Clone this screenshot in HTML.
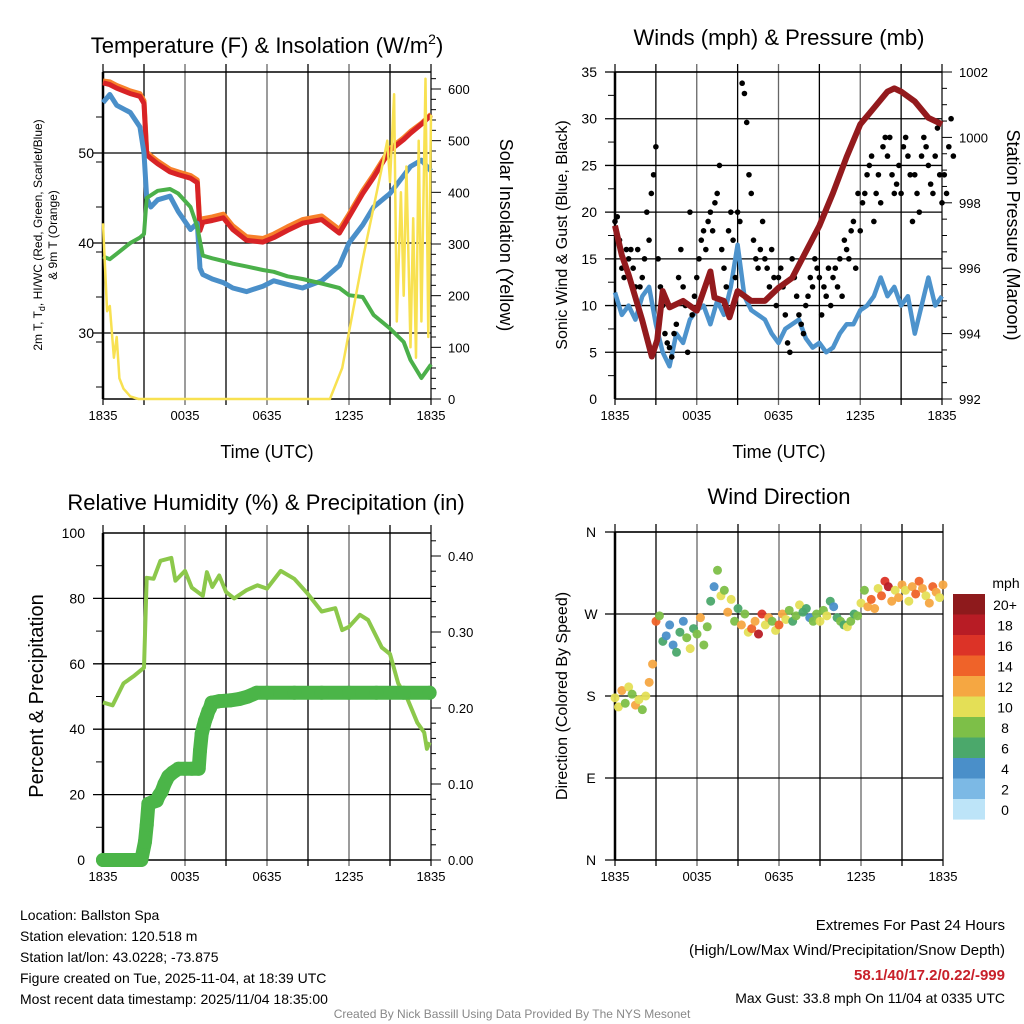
<!DOCTYPE html>
<html><head><meta charset="utf-8"><style>
html,body{margin:0;padding:0;background:#fff}
svg{display:block;font-family:"Liberation Sans",Arial,sans-serif}
</style></head><body>
<svg id="chart" xmlns="http://www.w3.org/2000/svg" width="1024" height="1024" viewBox="0 0 1024 1024">
<rect width="1024" height="1024" fill="#fff"/>
<g id="layer"></g>
</svg>
<script>
// ---------- DATA ----------
const xTickLabels = ["1835","0035","0635","1235","1835"];
const tempTicks = [30,40,50];
const solarTicks = [0,100,200,300,400,500,600];
const windTicks = [0,5,10,15,20,25,30,35];
const presTicks = [992,994,996,998,1000,1002];
const rhTicks = [0,20,40,60,80,100];
const precipTicks = ["0.00","0.10","0.20","0.30","0.40"];
const dirTicks = ["N","E","S","W","N"];
const speedLabels = ["20+","18","16","14","12","10","8","6","4","2","0"];
const speedColors = ["#8e1a1c","#b81c25","#dc3327","#ef6329","#f5a742","#e4df56","#7dbf48","#4ba86b","#4a8fc9","#7cb9e5","#bde4f8"];

// Temperature panel (hours since 1835 UTC)
const tempHours = [0,0.5,1,2,2.7,3.0,3.2,3.5,4,4.9,5.5,6.4,6.9,7.1,7.3,8,8.8,9.5,10.5,11.7,12.5,13.5,14.6,16,17.3,18,19,19.8,21,22,22.5,23.3,24];
const temp2m = [57.8,57.6,57.2,56.6,56.3,55.5,49.8,49.4,48.8,47.9,47.6,47.2,46.7,41.4,42.3,42.5,42.8,41.5,40.3,40.1,40.6,41.4,42.2,42.6,41.1,42.9,45.5,47.3,50.3,51.5,52.2,53.2,54.2];
const temp9m = [58.0,57.9,57.5,56.9,56.6,55.8,50.1,49.7,49.1,48.2,47.9,47.5,47.0,41.8,42.7,42.9,43.2,41.9,40.7,40.5,41.0,41.8,42.6,43.0,41.5,43.2,45.8,47.6,50.5,51.7,52.4,53.3,54.3];
const windChill = [55.6,56.5,55.3,54.5,52.9,50,45.0,44.0,44.8,45.2,43.5,41.5,42.2,37.2,36.5,36.0,35.6,35.0,34.6,35.2,35.8,35.4,35.0,35.8,37.5,40.0,42.0,44.0,45.5,47.5,48.5,49.2,48.0];
const dewPoint = [38.5,38.2,38.8,40.0,40.6,41.0,45.0,45.3,45.8,46.0,45.5,44.0,41.8,40.2,38.6,38.3,38.0,37.7,37.4,37.0,36.8,36.3,36.0,35.5,35.0,34.2,34.0,32.0,30.5,29.0,27.0,25.0,26.5];
const solarHours = [0,0.3,0.5,0.8,1,1.2,1.5,2,2.6,16.6,17.5,19,20.5,20.8,21.0,21.3,21.5,21.8,22,22.2,22.5,22.7,22.9,23.1,23.3,23.6,23.8,24];
const solar = [340,170,180,80,120,40,20,5,0,0,60,270,460,500,420,590,150,400,200,450,100,350,80,500,150,620,120,550];

// Winds & pressure panel
const windHours = [0,0.5,1,1.5,2,2.5,3,3.5,4,4.5,5,5.5,6,6.5,7,7.5,8,8.5,9,9.5,10,10.5,11,11.5,12,12.5,13,13.5,14,14.5,15,15.5,16,16.5,17,17.5,18,18.5,19,19.5,20,20.5,21,21.5,22,22.5,23,23.5,24];
const sonicWind = [11.4,9,10,8.5,11,12,8,5,3.5,7,6,8.5,9.5,10,8,10.5,9,12,16.5,11,9.5,9,8.5,7,6,7.5,8,8.5,6.5,5.5,6,5,5.5,7,8,8,9.5,10,11,13,11,12,10,11,7,10,13,10,11];
const presHours = [0,0.5,1,2,2.7,3.1,3.5,4,5,6,7,7.3,8,8.4,9,10,11,12,13,14,15,16,17,18,19,20,20.5,21,22,23,24];
const pressure = [997.3,996.4,995.8,994.4,993.3,993.8,995.3,994.8,995.0,994.7,995.9,995.1,995.0,994.5,995.3,995.0,995.0,995.4,995.7,996.5,997.3,998.3,999.4,1000.4,1000.9,1001.4,1001.5,1001.4,1001.1,1000.6,1000.4];
// gusts every 10 minutes
const gusts = [19,19.5,17,14,13,16, 15,16,14,12,16,12, 13,15,20,17,22,24, 27,15,12,10,7,6, 5.5,4.5,7,8,13,16, 12,10,5,20,9,11, 13,15,17,18,16,19, 20,18,21,22,25,16, 14,12,18,20,17,13, 20,19,33.8,32.7,29.6,24, 22,17,15,14,16,19, 15,14,12,16,13,10, 13,14,12,9,6,5, 15,13,11,9,8,7, 10,11,13,12,15,14, 13,9,12,11,14,10, 13,14,12,15,11,17, 16,15,18,19,14,22, 18,21,22,24,25,26, 19,22,24,21,27,28, 26,28,24,22,23,25, 22,27,28,26,24,19, 24,22,20,26,28,27, 25,23,22,26,29,24, 21,24,22,27,30,26];

// RH & precip panel
const rhHours = [0,0.7,1.5,2.3,3.0,3.2,3.7,4.2,5.0,5.3,6.0,6.5,7.3,7.6,8.0,8.5,9.0,9.6,10.5,11.3,12,13,14,15,16,17,17.5,18,18.8,19.4,20.4,21,21.6,22.3,23,23.5,23.7,23.9];
const rh = [48.2,47.3,54,56.4,58.8,86.3,86,91.5,92.4,85.4,88.4,83.3,80.8,88,83.5,87,82,80,82.5,84,83,88.4,86,81.3,76,77,70.3,71.3,75,73.4,65,63,54,49,42,39,34,36];
const precipHours = [0,0.3,0.6,0.9,1.2,1.5,1.8,2.1,2.4,2.8,3.07,3.2,3.32,3.6,3.93,4.1,4.29,4.5,4.78,5.1,5.51,6.0,6.5,7.0,7.1,7.22,7.35,7.46,7.6,7.71,7.83,7.95,8.5,9.29,10,10.6,11.24,12,14,16,18,20,22,23.9];
const precip = [0,0,0,0,0,0,0,0,0,0,0.024,0.046,0.074,0.076,0.078,0.085,0.09,0.1,0.11,0.115,0.12,0.12,0.12,0.12,0.144,0.166,0.175,0.183,0.19,0.196,0.2,0.207,0.209,0.21,0.212,0.215,0.22,0.22,0.22,0.22,0.22,0.22,0.22,0.22];

// Wind direction (every 15 min): degrees and speed
const dirDeg = [178,168,186,172,190,182,170,176,165,180,195,215,262,268,240,246,258,236,228,250,262,244,232,254,248,266,236,256,284,300,318,290,296,272,286,262,276,258,270,250,254,262,248,270,258,266,262,252,258,270,264,274,262,268,280,272,276,266,262,270,262,274,268,284,278,266,262,258,256,262,270,268,282,296,278,286,276,298,290,306,300,284,296,288,302,296,284,300,292,306,298,290,282,300,294,288,302];
const dirSpeed = [10,9,11,8,10,7,12,9,8,10,11,12,13,8,5,4,3,3,6,5,4,7,9,6,7,11,8,7,5,4,8,10,7,12,9,8,6,11,7,9,13,12,18,16,9,12,8,9,13,12,9,8,6,7,9,5,6,4,8,7,9,8,9,6,4,5,7,6,9,8,6,7,9,8,12,13,11,10,14,16,17,12,10,11,12,9,10,11,14,13,11,10,12,14,11,9,12];

// ---------- DRAWING ----------
const NS = "http://www.w3.org/2000/svg";
const layer = document.getElementById("layer");
function mk(tag, attrs, parent, name, inter) {
  const el = document.createElementNS(NS, tag);
  for (const k in attrs) el.setAttribute(k, attrs[k]);
  
  
  (parent || layer).appendChild(el);
  return el;
}
function txt(x, y, s, size, anchor, parent, name, extra) {
  const t = mk("text", Object.assign({x:x, y:y, "font-size":size, "text-anchor":anchor||"middle", fill:"#000"}, extra||{}), parent, name, false);
  t.textContent = s;
  return t;
}
function lin(d0, d1, r0, r1) { return v => r0 + (v - d0) * (r1 - r0) / (d1 - d0); }
function pathD(xs, ys, fx, fy) { return xs.map((h, i) => (i ? "L" : "M") + fx(h).toFixed(1) + "," + fy(ys[i]).toFixed(1)).join(""); }

function frame(L, T, R, B, hLines, name) {
  const g = mk("g", {}, layer, name, false);
  for (let i = 0; i <= 8; i++) {
    const x = L + i * (R - L) / 8;
    mk("line", {x1:x, y1:T-8, x2:x, y2:B+6, stroke: (i%2? "#000":"#666"), "stroke-width":(i==0||i==8)?2:1.3}, g, "v-gridline", false);
  }
  hLines.forEach(y => mk("line", {x1:L-10, y1:y, x2:R, y2:y, stroke:"#000", "stroke-width":1.3}, g, "h-gridline", false));
  mk("line", {x1:L, y1:T, x2:R, y2:T, stroke:"#000", "stroke-width":1.5}, g, "top-border", false);
  mk("line", {x1:L, y1:B, x2:R, y2:B, stroke:"#000", "stroke-width":1.5}, g, "bottom-border", false);
  mk("line", {x1:L, y1:T, x2:L, y2:B, stroke:"#000", "stroke-width":2.5}, g, "left-border", false);
  xTickLabels.forEach((s, i) => txt(L + i * (R - L) / 4, B + 21, s, 13, "middle", g, "x-tick-label"));
  return g;
}

// ===== Panel 1: Temperature =====
{
  const L=103,R=431,T=72,B=399;
  const fx = lin(0,24,L,R), fy = lin(30,40,333,243), fs = lin(0,600,399,89);
  const g = frame(L,T,R,B,[fy(30),fy(40),fy(50)],"temperature-panel");
  tempTicks.forEach(v => txt(L-9, fy(v)+5, String(v), 14, "end", g, "temp-tick-label"));
  for (let v=24; v<=58; v+=5) { if (v%10) mk("line",{x1:L-7,y1:fy(v),x2:L,y2:fy(v),stroke:"#000"},g,"temp-minor-tick",false); }
  solarTicks.forEach(v => { mk("line",{x1:R,y1:fs(v),x2:R+10,y2:fs(v),stroke:"#000"},g,"solar-tick",false); txt(R+17, fs(v)+5, String(v), 13, "start", g, "solar-tick-label"); });
  for (let v=20; v<=620; v+=20) if (v%100) mk("line",{x1:R,y1:fs(v),x2:R+5,y2:fs(v),stroke:"#000"},g,"solar-minor-tick",false);
  mk("path",{d:pathD(tempHours,temp9m,fx,fy),fill:"none",stroke:"#f7802a","stroke-width":5,"stroke-linejoin":"round"},g,"series-9m-temp",false);
  mk("path",{d:pathD(tempHours,temp2m,fx,fy),fill:"none",stroke:"#d82326","stroke-width":5,"stroke-linejoin":"round"},g,"series-2m-temp",false);
  mk("path",{d:pathD(tempHours,windChill,fx,fy),fill:"none",stroke:"#4a8fc9","stroke-width":5,"stroke-linejoin":"round"},g,"series-wind-chill",false);
  mk("path",{d:pathD(tempHours,dewPoint,fx,fy),fill:"none",stroke:"#4bb04a","stroke-width":4,"stroke-linejoin":"round"},g,"series-dewpoint",false);
  mk("path",{d:pathD(solarHours,solar,fx,fs),fill:"none",stroke:"#f8e151","stroke-width":2.5,"stroke-linejoin":"round"},g,"series-solar",false);
  const t = txt(267, 53, "", 22, "middle", g, "temp-chart-title");
  t.innerHTML = 'Temperature (F) &amp; Insolation (W/m<tspan font-size="14" dy="-9">2</tspan><tspan dy="9">)</tspan>';
  txt(267, 458, "Time (UTC)", 18, "middle", g, "x-axis-title");
  const yl = txt(0,0,"",12,"middle",g,"temp-y-axis-title",{transform:"translate(42,235) rotate(-90)"});
  yl.innerHTML = '2m T, T<tspan font-size="9" dy="3">d</tspan><tspan dy="-3">, HI/WC (Red, Green, Scarlet/Blue)</tspan>';
  txt(0,0,"& 9m T (Orange)",12,"middle",g,"temp-y-axis-title-line2",{transform:"translate(57,235) rotate(-90)"});
  txt(0,0,"Solar Insolation (Yellow)",18,"middle",g,"solar-axis-title",{transform:"translate(500,235) rotate(90)"});
}

// ===== Panel 2: Winds =====
{
  const L=615,R=942,T=72,B=399;
  const fx = lin(0,24,L,R), fy = lin(0,35,B,T), fp = lin(992,1002,B,T);
  const g = frame(L,T,R,B,windTicks.slice(1).map(fy),"winds-panel");
  windTicks.forEach(v => txt(L-18, fy(v)+5, String(v), 14, "end", g, "wind-tick-label"));
  for (let v=2.5; v<35; v+=5) mk("line",{x1:L-7,y1:fy(v),x2:L,y2:fy(v),stroke:"#000"},g,"wind-minor-tick",false);
  presTicks.forEach(v => { mk("line",{x1:R,y1:fp(v),x2:R+10,y2:fp(v),stroke:"#000"},g,"pres-tick",false); txt(R+17, fp(v)+5, String(v), 13, "start", g, "pres-tick-label"); });
  for (let v=992.5; v<1002; v+=0.5) if (Math.abs(v-Math.round(v/2)*2)>0.1) mk("line",{x1:R,y1:fp(v),x2:R+5,y2:fp(v),stroke:"#000"},g,"pres-minor-tick",false);
  mk("path",{d:pathD(windHours,sonicWind,fx,fy),fill:"none",stroke:"#4d93cc","stroke-width":4.5,"stroke-linejoin":"round"},g,"series-sonic-wind",false);
  gusts.forEach((v,i) => mk("circle",{cx:fx(i/6),cy:fy(v),r:2.8,fill:"#000"},g,"gust-point",false));
  mk("path",{d:pathD(presHours,pressure,fx,fp),fill:"none",stroke:"#931a1d","stroke-width":6,"stroke-linejoin":"round"},g,"series-pressure",false);
  txt(779, 45, "Winds (mph) & Pressure (mb)", 22, "middle", g, "winds-chart-title");
  txt(779, 458, "Time (UTC)", 18, "middle", g, "winds-x-axis-title");
  txt(0,0,"Sonic Wind & Gust (Blue, Black)",16,"middle",g,"wind-y-axis-title",{transform:"translate(567,235) rotate(-90)"});
  txt(0,0,"Station Pressure (Maroon)",18,"middle",g,"pressure-axis-title",{transform:"translate(1007,235) rotate(90)"});
}

// ===== Panel 3: RH & Precip =====
{
  const L=103,R=431,T=533,B=860;
  const fx = lin(0,24,L,R), fy = lin(0,100,B,T), fp = lin(0,0.4,B,556);
  const g = frame(L,T,R,B,[20,40,60,80].map(fy),"rh-panel");
  rhTicks.forEach(v => txt(L-18, fy(v)+5, String(v), 14, "end", g, "rh-tick-label"));
  for (let v=10; v<100; v+=20) mk("line",{x1:L-7,y1:fy(v),x2:L,y2:fy(v),stroke:"#000"},g,"rh-minor-tick",false);
  precipTicks.forEach(s => { const v=parseFloat(s); mk("line",{x1:R,y1:fp(v),x2:R+10,y2:fp(v),stroke:"#000"},g,"precip-tick",false); txt(R+17, fp(v)+5, s, 13, "start", g, "precip-tick-label"); });
  for (let v=0.02; v<0.43; v+=0.02) if (Math.round(v*100)%10) mk("line",{x1:R,y1:fp(v),x2:R+5,y2:fp(v),stroke:"#000"},g,"precip-minor-tick",false);
  mk("path",{d:pathD(rhHours,rh,fx,fy),fill:"none",stroke:"#8cc84b","stroke-width":4,"stroke-linejoin":"round"},g,"series-rh",false);
  mk("path",{d:pathD(precipHours,precip,fx,fp),fill:"none",stroke:"#4bb548","stroke-width":14,"stroke-linejoin":"round","stroke-linecap":"round"},g,"series-precip-line",false);
  precipHours.forEach((h,i) => mk("circle",{cx:fx(h),cy:fp(precip[i]),r:7,fill:"#4bb548"},g,"precip-point",false));
  txt(266, 510, "Relative Humidity (%) & Precipitation (in)", 22, "middle", g, "rh-chart-title");
  txt(0,0,"Percent & Precipitation",20,"middle",g,"rh-y-axis-title",{transform:"translate(43,696) rotate(-90)"});
}

// ===== Panel 4: Wind Direction =====
{
  const L=615,R=943,T=532,B=860;
  const fx = lin(0,24,L,R), fy = lin(0,360,B,T);
  const g = frame(L,T,R,B,[0,90,180,270,360].map(fy),"wind-direction-panel");
  dirTicks.forEach((s,i) => txt(L-24, fy(i*90)+5, s, 14, "middle", g, "direction-tick-label"));
  dirDeg.forEach((d,i) => {
    const idx = Math.min(10, Math.round(dirSpeed[i]/2));
    mk("circle",{cx:fx(i/4),cy:fy(d),r:4.5,fill:speedColors[10-idx],opacity:0.95},g,"direction-point",false);
  });
  speedLabels.forEach((s,i) => {
    mk("rect",{x:953,y:594+i*20.5,width:32,height:20.6,fill:speedColors[i]},g,"colorbar-segment",false);
    txt(1005, 594+i*20.5+16, s, 14, "middle", g, "colorbar-label");
  });
  txt(1006, 588, "mph", 14, "middle", g, "colorbar-title");
  txt(779, 504, "Wind Direction", 22, "middle", g, "direction-chart-title");
  txt(0,0,"Direction (Colored By Speed)",16,"middle",g,"direction-y-axis-title",{transform:"translate(567,696) rotate(-90)"});
}

// ===== Footer =====
{
  const g = mk("g",{},layer,"footer",false);
  ["Location: Ballston Spa","Station elevation: 120.518 m","Station lat/lon: 43.0228; -73.875","Figure created on Tue, 2025-11-04, at 18:39 UTC","Most recent data timestamp: 2025/11/04 18:35:00"]
    .forEach((s,i) => txt(20, 920+i*21, s, 14, "start", g, "station-info-line"));
  txt(1005, 930, "Extremes For Past 24 Hours", 15, "end", g, "extremes-title");
  txt(1005, 955, "(High/Low/Max Wind/Precipitation/Snow Depth)", 15, "end", g, "extremes-subtitle");
  txt(1005, 980, "58.1/40/17.2/0.22/-999", 15, "end", g, "extremes-values", {fill:"#c8202a","font-weight":"bold"});
  txt(1005, 1003, "Max Gust: 33.8 mph On 11/04 at 0335 UTC", 14, "end", g, "max-gust");
  txt(512, 1018, "Created By Nick Bassill Using Data Provided By The NYS Mesonet", 12, "middle", g, "credit", {fill:"#888"});
}
</script>
</body></html>
